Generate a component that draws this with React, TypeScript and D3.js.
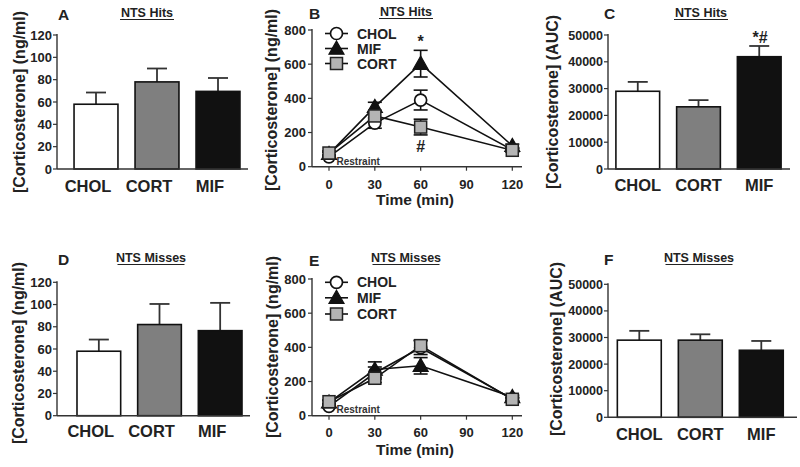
import React from 'react';
import * as d3 from 'd3';

// ---------- data ----------
const groups = ['CHOL', 'CORT', 'MIF'];
const groupFill = ['#ffffff', '#7f7f7f', '#111111'];

const hitsConc = [58, 78, 69.5];
const hitsConcErr = [10.5, 12, 12];
const missConc = [58, 82, 76.5];
const missConcErr = [10.5, 18.5, 25];

const hitsAUC = [29000, 23200, 41900];
const hitsAUCErr = [3500, 2500, 4000];
const missAUC = [29000, 29000, 25200];
const missAUCErr = [3500, 2200, 3500];

const concTicks = [0, 20, 40, 60, 80, 100, 120];
const aucTicks = [0, 10000, 20000, 30000, 40000, 50000];
const timeConcTicks = [0, 200, 400, 600, 800];
const timeTicks = [0, 30, 60, 90, 120];

const times = [0, 30, 60, 120];
const lineSeries = ['CHOL', 'MIF', 'CORT'];

const hitsCHOL = [58, 255, 390, 98];
const hitsCHOLErr = [8, 30, 58, 10];
const hitsMIF = [75, 350, 603, 122];
const hitsMIFErr = [10, 27, 78, 10];
const hitsCORT = [80, 297, 232, 96];
const hitsCORTErr = [12, 25, 46, 10];

const missCHOL = [55, 250, 398, 98];
const missCHOLErr = [8, 35, 40, 10];
const missMIF = [78, 270, 292, 110];
const missMIFErr = [10, 45, 48, 10];
const missCORT = [82, 219, 410, 96];
const missCORTErr = [10, 25, 32, 10];

const FONT = '"Liberation Sans", Arial, Helvetica, sans-serif';
const TXT = '#222';
const AX = '#333';

type BarProps = {
  letter: string; title: string; yLabel: string;
  values: number[]; errs: number[]; ticks: number[]; yMax: number;
  axisX: number; y0: number; yTop: number; xEnd: number;
  bandRange: [number, number]; catBase: number; catShift: number;
  tickFont: number; letterPos: [number, number]; titlePos: [number, number];
  yLabelPos: [number, number]; annot?: { text: string; x: number; y: number };
};

function Title({ text, x, y }: { text: string; x: number; y: number }) {
  const w = text.length * 6.5;
  return (
    <g>
      <text x={x} y={y} textAnchor="middle" fontSize={12.5} fontWeight="bold" fill={TXT}>{text}</text>
      <line x1={x - w / 2 - 1} x2={x + w / 2 + 1} y1={y + 2.5} y2={y + 2.5} stroke={TXT} strokeWidth={1} />
    </g>
  );
}

function BarPanel(p: BarProps) {
  const y = d3.scaleLinear().domain([0, p.yMax]).range([p.y0, p.yTop]);
  const x = d3.scaleBand<string>().domain(groups).range(p.bandRange).paddingInner(0.28).paddingOuter(0.14);
  const bw = x.bandwidth();
  return (
    <g fontFamily={FONT}>
      <text x={p.letterPos[0]} y={p.letterPos[1]} fontSize={15.5} fontWeight="bold" fill={TXT}>{p.letter}</text>
      <Title text={p.title} x={p.titlePos[0]} y={p.titlePos[1]} />
      <text transform={`translate(${p.yLabelPos[0]},${p.yLabelPos[1]}) rotate(-90)`} textAnchor="middle" dominantBaseline="central" fontSize={16} fontWeight="bold" fill={TXT}>{p.yLabel}</text>
      {p.ticks.map(t => (
        <g key={t}>
          <line x1={p.axisX - 4} x2={p.axisX} y1={y(t)} y2={y(t)} stroke={AX} strokeWidth={1.2} />
          <text x={p.axisX - 5} y={y(t)} dy="0.36em" textAnchor="end" fontSize={p.tickFont} fontWeight="bold" fill={TXT}>{t}</text>
        </g>
      ))}
      {groups.map((g, i) => {
        const bx = x(g)!;
        const cx = bx + bw / 2;
        const top = y(p.values[i]);
        const et = y(p.values[i] + p.errs[i]);
        return (
          <g key={g}>
            <line x1={cx} x2={cx} y1={top} y2={et} stroke={AX} strokeWidth={1.8} />
            <line x1={cx - 10} x2={cx + 10} y1={et} y2={et} stroke={AX} strokeWidth={1.8} />
            <rect x={bx} y={top} width={bw} height={p.y0 - top} fill={groupFill[i]} stroke="#111" strokeWidth={1.6} />
            <text x={cx + p.catShift} y={p.catBase} textAnchor="middle" fontSize={16.5} fontWeight="bold" fill={TXT}>{g}</text>
          </g>
        );
      })}
      <line x1={p.axisX} x2={p.axisX} y1={p.yTop - 1} y2={p.y0} stroke={AX} strokeWidth={1.4} />
      <line x1={p.axisX} x2={p.xEnd} y1={p.y0} y2={p.y0} stroke={AX} strokeWidth={1.4} />
      {p.annot && (
        <text x={p.annot.x} y={p.annot.y} textAnchor="middle" dominantBaseline="central" fontSize={16} fontWeight="bold" fill={TXT}>{p.annot.text}</text>
      )}
    </g>
  );
}

type LineProps = {
  letter: string; title: string;
  series: number[][]; errs: number[][];
  y0: number; yTop: number; xEnd: number;
  letterPos: [number, number]; titlePos: [number, number]; yLabelPos: [number, number];
  legendY: number[]; tickBase: number; timeBase: number; restraintBase: number;
  annots?: { text: string; t: number; y: number }[];
};

function Marker({ kind, x, y }: { kind: string; x: number; y: number }) {
  if (kind === 'CHOL') return <circle cx={x} cy={y} r={6} fill="#fff" stroke="#111" strokeWidth={1.7} />;
  if (kind === 'CORT') return <rect x={x - 6} y={y - 6} width={12} height={12} fill="#b4b4b4" stroke="#222" strokeWidth={1.5} />;
  const s = 7.5;
  return <path d={`M${x},${y - s} L${x + s},${y + s * 0.75} L${x - s},${y + s * 0.75} Z`} fill="#111" stroke="#111" strokeWidth={1.2} />;
}

function LinePanel(p: LineProps) {
  const axisX = 312;
  const x = d3.scaleLinear().domain([0, 120]).range([329, 512.3]);
  const y = d3.scaleLinear().domain([0, 800]).range([p.y0, p.yTop]);
  const line = d3.line<number>().x((_, i) => x(times[i])).y(v => y(v));
  return (
    <g fontFamily={FONT}>
      <text x={p.letterPos[0]} y={p.letterPos[1]} fontSize={15.5} fontWeight="bold" fill={TXT}>{p.letter}</text>
      <Title text={p.title} x={p.titlePos[0]} y={p.titlePos[1]} />
      <text transform={`translate(${p.yLabelPos[0]},${p.yLabelPos[1]}) rotate(-90)`} textAnchor="middle" dominantBaseline="central" fontSize={16} fontWeight="bold" fill={TXT}>[Corticosterone] (ng/ml)</text>
      {timeConcTicks.map(t => (
        <g key={t}>
          <line x1={axisX - 4} x2={axisX} y1={y(t)} y2={y(t)} stroke={AX} strokeWidth={1.2} />
          <text x={axisX - 6} y={y(t)} dy="0.36em" textAnchor="end" fontSize={13} fontWeight="bold" fill={TXT}>{t}</text>
        </g>
      ))}
      {timeTicks.map(t => (
        <g key={t}>
          <line x1={x(t)} x2={x(t)} y1={p.y0} y2={p.y0 + 4} stroke={AX} strokeWidth={1.2} />
          <text x={x(t)} y={p.tickBase} textAnchor="middle" fontSize={13} fontWeight="bold" fill={TXT}>{t}</text>
        </g>
      ))}
      <text x={415} y={p.timeBase} textAnchor="middle" fontSize={15.5} fontWeight="bold" fill={TXT}>Time (min)</text>
      <line x1={axisX} x2={axisX} y1={p.yTop - 1} y2={p.y0} stroke={AX} strokeWidth={1.4} />
      <line x1={axisX} x2={p.xEnd} y1={p.y0} y2={p.y0} stroke={AX} strokeWidth={1.4} />
      <text x={336.5} y={p.restraintBase} fontSize={10} fontWeight="bold" fill="#333">Restraint</text>
      {p.series.map((s, k) => (
        <path key={k} d={line(s) || ''} fill="none" stroke="#111" strokeWidth={1.6} />
      ))}
      {p.series.map((s, k) => (
        <g key={k}>
          {s.map((v, i) => {
            const cx = x(times[i]);
            const e = p.errs[k][i];
            return (
              <g key={i}>
                <line x1={cx} x2={cx} y1={y(v - e)} y2={y(v + e)} stroke="#111" strokeWidth={1.6} />
                <line x1={cx - 7} x2={cx + 7} y1={y(v + e)} y2={y(v + e)} stroke="#111" strokeWidth={1.6} />
                <line x1={cx - 7} x2={cx + 7} y1={y(v - e)} y2={y(v - e)} stroke="#111" strokeWidth={1.6} />
              </g>
            );
          })}
        </g>
      ))}
      {p.series.map((s, k) => (
        <g key={k}>
          {s.map((v, i) => <Marker key={i} kind={lineSeries[k]} x={x(times[i])} y={y(v)} />)}
        </g>
      ))}
      {lineSeries.map((name, k) => (
        <g key={name}>
          <line x1={325} x2={348} y1={p.legendY[k]} y2={p.legendY[k]} stroke="#111" strokeWidth={1.6} />
          <Marker kind={name} x={336.5} y={p.legendY[k]} />
          <text x={357} y={p.legendY[k]} dy="0.36em" fontSize={14} fontWeight="bold" fill={TXT}>{name}</text>
        </g>
      ))}
      {p.annots && p.annots.map((a, i) => (
        <text key={i} x={x(a.t)} y={a.y} textAnchor="middle" dominantBaseline="central" fontSize={16} fontWeight="bold" fill={TXT}>{a.text}</text>
      ))}
    </g>
  );
}

export default function App() {
  return (
    <svg width={800} height={467} style={{ position: 'absolute', left: 0, top: 0, background: '#fff' }}>
      <rect width={800} height={467} fill="#fff" />
      <BarPanel letter="A" title="NTS Hits" yLabel="[Corticosterone] (ng/ml)"
        values={hitsConc} errs={hitsConcErr} ticks={concTicks} yMax={120}
        axisX={57} y0={169} yTop={35} xEnd={248} bandRange={[65.5, 248.5]}
        catBase={191.5} catShift={-8} tickFont={13}
        letterPos={[58, 20]} titlePos={[147, 17]} yLabelPos={[19, 102]} />
      <BarPanel letter="C" title="NTS Hits" yLabel="[Corticosterone] (AUC)"
        values={hitsAUC} errs={hitsAUCErr} ticks={aucTicks} yMax={50000}
        axisX={608} y0={169} yTop={35} xEnd={790} bandRange={[607.4, 789.6]}
        catBase={190.5} catShift={0} tickFont={12.5}
        letterPos={[604, 19]} titlePos={[701, 17]} yLabelPos={[552, 102]}
        annot={{ text: '*#', x: 760, y: 37 }} />
      <BarPanel letter="D" title="NTS Misses" yLabel="[Corticosterone] (ng/ml)"
        values={missConc} errs={missConcErr} ticks={concTicks} yMax={120}
        axisX={57} y0={415.7} yTop={282.3} xEnd={250} bandRange={[68.5, 250.5]}
        catBase={437} catShift={-8} tickFont={13}
        letterPos={[58, 265]} titlePos={[151, 262]} yLabelPos={[18, 353]} />
      <BarPanel letter="F" title="NTS Misses" yLabel="[Corticosterone] (AUC)"
        values={missAUC} errs={missAUCErr} ticks={aucTicks} yMax={50000}
        axisX={608} y0={417.3} yTop={284.3} xEnd={797} bandRange={[608.8, 791.8]}
        catBase={440} catShift={0} tickFont={12.5}
        letterPos={[604, 265]} titlePos={[699, 262]} yLabelPos={[556, 349]} />
      <LinePanel letter="B" title="NTS Hits"
        series={[hitsCHOL, hitsMIF, hitsCORT]} errs={[hitsCHOLErr, hitsMIFErr, hitsCORTErr]}
        y0={166.7} yTop={30} xEnd={522}
        letterPos={[309, 19]} titlePos={[406, 16]} yLabelPos={[271, 100]}
        legendY={[33.5, 48.5, 63.5]} tickBase={189} timeBase={205} restraintBase={165}
        annots={[{ text: '*', t: 60, y: 41 }, { text: '#', t: 60, y: 146 }]} />
      <LinePanel letter="E" title="NTS Misses"
        series={[missCHOL, missMIF, missCORT]} errs={[missCHOLErr, missMIFErr, missCORTErr]}
        y0={415.7} yTop={279} xEnd={522}
        letterPos={[309, 266]} titlePos={[406, 262]} yLabelPos={[272, 347]}
        legendY={[282.3, 297.8, 314]} tickBase={437} timeBase={455} restraintBase={413} />
    </svg>
  );
}
